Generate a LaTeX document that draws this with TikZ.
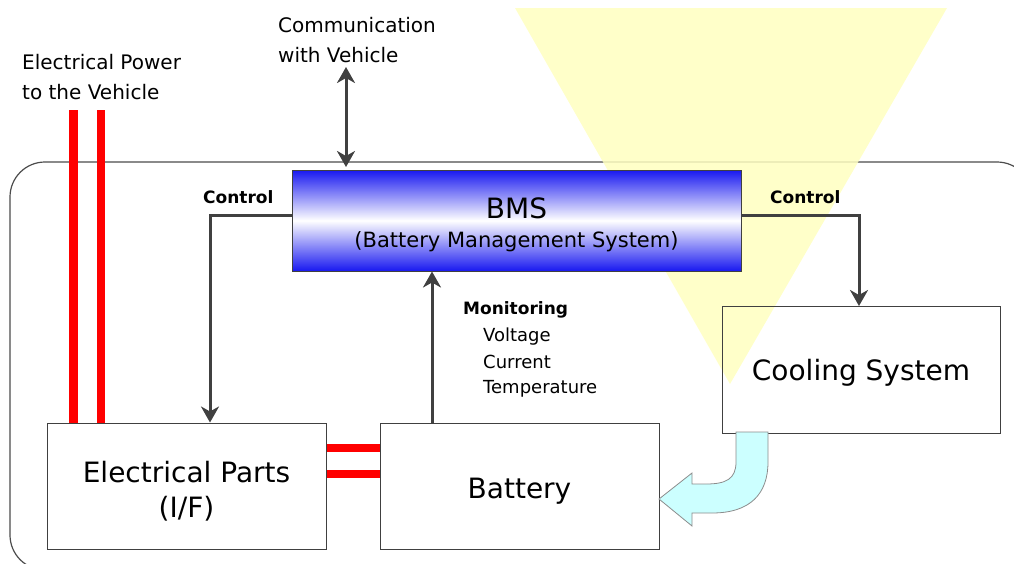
\documentclass[tikz,border=0pt]{standalone}
\usepackage{fontspec}
\setmainfont{DejaVu Sans}
\usetikzlibrary{arrows.meta}
\definecolor{arrowgray}{HTML}{404040}
\definecolor{tri}{HTML}{FFFFC0}
\definecolor{coolfill}{HTML}{CCFFFF}
\definecolor{bmsblue}{HTML}{1818F0}
\tikzset{
  box/.style={draw=black!75, line width=1pt, rectangle, inner sep=0pt},
  ctrl/.style={draw=arrowgray, line width=3pt, -{Stealth[length=16pt,width=18pt,inset=5pt]}},
  redline/.style={draw=red, line width=8.5pt},
  lbl/.style={inner sep=0pt, anchor=west},
}
\newcommand{\fs}[1]{\fontsize{#1}{#1}\selectfont}
\begin{document}
\begin{tikzpicture}[x=1pt,y=-1pt]
\useasboundingbox (0,0) rectangle (1014,563);
\begin{scope}
\clip (0,0) rectangle (1014,563);
% outer rounded frame
\draw[black!70, line width=1.2pt, rounded corners=35pt] (10,162) rectangle (1032,570);
\end{scope}
% yellow triangle
\fill[tri, opacity=0.85] (515,8) -- (947,8) -- (730,384) -- cycle;
% boxes
\node[box, minimum width=279pt, minimum height=126pt] (ep) at (186.5,486) {};
\node[inner sep=0pt, align=center, font=\fontsize{28}{35}\selectfont] (ept) at (186.5,491) {Electrical Parts\\(I/F)};
\node[box, minimum width=279pt, minimum height=126pt] (bat) at (519.5,486) {};
\node[inner sep=0pt, font=\fs{28}] (batt) at (519.5,491) {Battery};
\node[box, minimum width=278pt, minimum height=127pt] (cool) at (861,370) {};
\node[inner sep=0pt, font=\fs{28}] (coolt) at (861,373) {Cooling System};
\node[box, minimum width=449pt, minimum height=101pt, top color=bmsblue, bottom color=bmsblue, middle color=white] (bms) at (516.5,220.5) {};
\node[inner sep=0pt, align=center] (bmst) at (516.5,225) {\fs{28}BMS\\[12pt]\fs{21}(Battery Management System)};
% red power lines
\coordinate (p1) at (73.5,110);
\coordinate (p2) at (101,110);
\draw[redline] (p1) -- (p1 |- ep.north);
\draw[redline] (p2) -- (p2 |- ep.north);
\coordinate (h1) at (350,448);
\coordinate (h2) at (350,474);
\draw[redline] (h1 -| ep.east) -- (h1 -| bat.west);
\draw[redline] (h2 -| ep.east) -- (h2 -| bat.west);
% cooling flow arrow
\draw[black!45, line width=0.8pt, fill=coolfill]
  (736,432) -- (736,462) .. controls (736,479) and (726,484) .. (706,484) -- (692,484) -- (692,473) -- (659,499) -- (692,526) -- (692,513) -- (712,513)
  .. controls (750,513) and (768,494) .. (768,462) -- (768,432) -- cycle;
% control arrows
\coordinate (cl) at (210,215);
\coordinate (cr) at (859,215);
\draw[ctrl] (cl -| bms.west) -- (cl) -- (cl |- ep.north);
\draw[ctrl] (cr -| bms.east) -- (cr) -- (cr |- cool.north);
% monitoring arrow
\coordinate (mon) at (432,423);
\draw[ctrl] (mon) -- (mon |- bms.south);
% communication arrow
\coordinate (com) at (346,67);
\coordinate (comb) at (346,167);
\draw[draw=arrowgray, line width=3pt, {Stealth[length=16pt,width=18pt,inset=5pt]}-{Stealth[length=16pt,width=18pt,inset=5pt]}] (com) -- (comb);
% labels
\node[lbl, align=left, font=\fontsize{20}{30}\selectfont] (lp) at (22,77) {Electrical Power\\to the Vehicle};
\node[lbl, align=left, font=\fontsize{20}{30}\selectfont] (lc) at (278,40) {Communication\\with Vehicle};
\node[lbl, font=\fs{17}\bfseries] (cl1) at (203,197) {Control};
\node[lbl, font=\fs{17}\bfseries] (cr1) at (770,197) {Control};
\node[lbl, font=\fs{17}\bfseries] (m0) at (463,310) {Monitoring};
\node[lbl, font=\fs{18}] (m1) at (483,337) {Voltage};
\node[lbl, font=\fs{18}] (m2) at (483,362) {Current};
\node[lbl, font=\fs{18}] (m3) at (483,389) {Temperature};
\end{tikzpicture}
\end{document}
